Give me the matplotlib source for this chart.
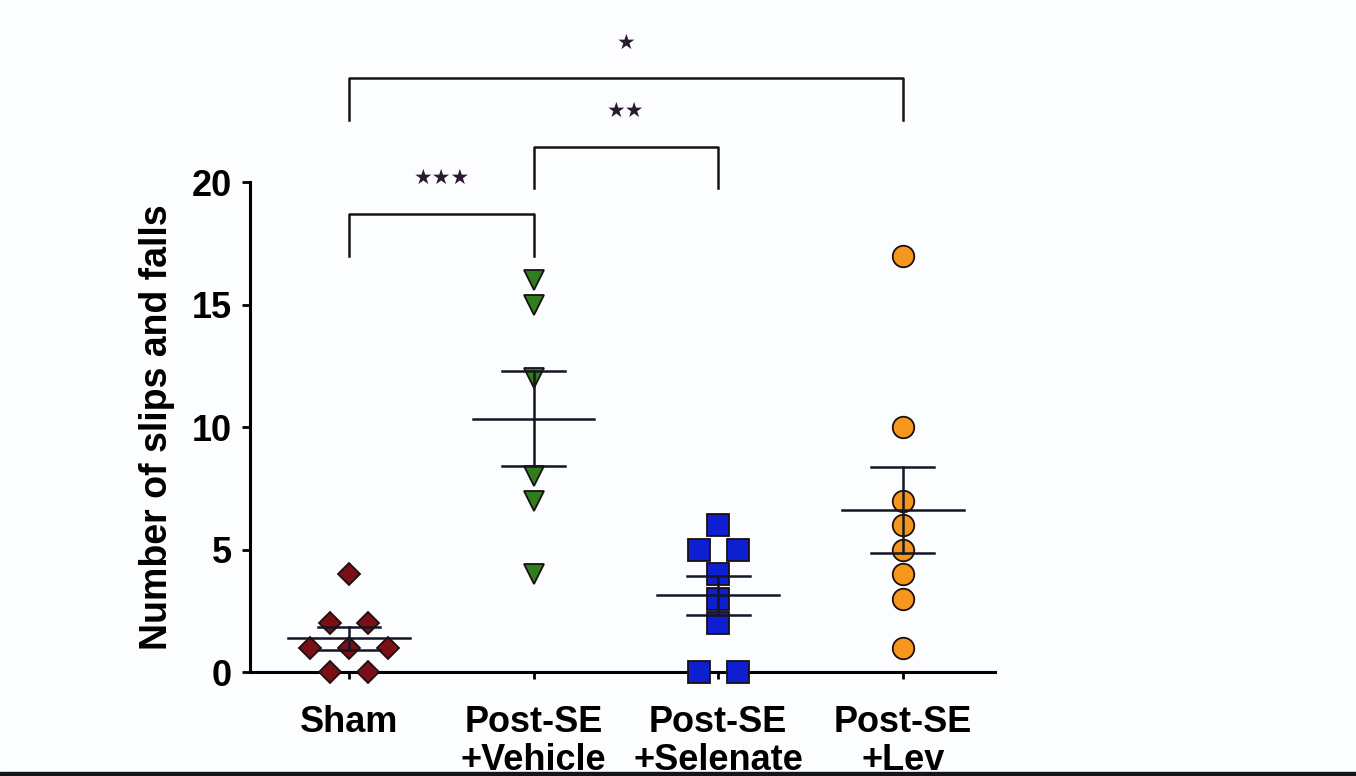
import numpy as np
import matplotlib
matplotlib.use("Agg")
import matplotlib.pyplot as plt
from matplotlib.patches import Rectangle

plt.rcParams['font.family'] = ['Liberation Sans', 'DejaVu Sans']

groups = ["Sham", "Post-SE\n+Vehicle", "Post-SE\n+Selenate", "Post-SE\n+Lev"]
sham = [4, 2, 2, 1, 1, 1, 0, 0]
vehicle = [16, 15, 12, 8, 7, 4]
selenate = [6, 5, 5, 4, 3, 2, 0, 0]
lev = [17, 10, 7, 6, 5, 4, 3, 1]
data = [sham, vehicle, selenate, lev]

markers = ['D', 'v', 's', 'o']
colors = ['#7a0f16', '#2f7d1d', '#0d1fd0', '#f5971c']
sizes = [11, 14.5, 15.5, 15.5]

# significance brackets: (left group, right group, bar y, leg bottom y, stars)
brackets = [(0, 1, 18.7, 17.0, "★★★"), (1, 2, 21.45, 19.75, "★★"), (0, 3, 24.25, 22.55, "★")]

fig = plt.figure(figsize=(13.56, 7.76), dpi=100)
fig.patch.set_facecolor('#fcfdff')
ax = fig.add_axes([0.1844, 0.134, 0.5494, 0.6314])
ax.set_facecolor('#fcfdff')

step = 0.21
for i, vals in enumerate(data):
    vals = np.array(vals, dtype=float)
    xs = np.zeros(len(vals))
    for v in np.unique(vals):
        idx = np.where(vals == v)[0]
        k = len(idx)
        xs[idx] = (np.arange(k) - (k - 1) / 2) * step
    # vehicle and lev columns are drawn in a single column
    if i in (1, 3):
        xs[:] = 0
    ax.plot(i + xs, vals, linestyle='none', marker=markers[i], ms=sizes[i],
            mfc=colors[i], mec='#1a1010', mew=1.3, zorder=3, clip_on=False)
    m = vals.mean()
    sem = vals.std(ddof=1) / np.sqrt(len(vals))
    lc = '#151525'
    ax.plot([i - 0.33, i + 0.33], [m, m], color=lc, lw=1.8, zorder=4)
    ax.plot([i - 0.17, i + 0.17], [m + sem, m + sem], color=lc, lw=1.8, zorder=4)
    ax.plot([i - 0.17, i + 0.17], [m - sem, m - sem], color=lc, lw=1.8, zorder=4)
    ax.plot([i, i], [m - sem, m + sem], color=lc, lw=1.8, zorder=4)

for a, b, ybar, yleg, stars in brackets:
    ax.plot([a, a, b, b], [yleg, ybar, ybar, yleg], color='#151515', lw=1.8,
            clip_on=False)
    ax.text((a + b) / 2, ybar + 1.45, stars, ha='center', va='center',
            fontsize=15, color='#2a1a30', family=['DejaVu Sans'])

ax.set_xlim(-0.536, 3.5)
ax.set_ylim(0, 20)
ax.set_yticks([0, 5, 10, 15, 20])
ax.set_xticks(range(4))
ax.set_xticklabels(groups, fontsize=26, fontweight='bold', linespacing=1.1)
ax.tick_params(axis='y', labelsize=26, width=2, length=6, pad=7, direction='out')
ax.tick_params(axis='x', width=2, length=5, pad=19, direction='out')
for lab in ax.get_yticklabels():
    lab.set_fontweight('bold')
ax.set_ylabel("Number of slips and falls", fontsize=27, fontweight='bold', labelpad=12)

ax.spines['top'].set_visible(False)
ax.spines['right'].set_visible(False)
ax.spines['left'].set_linewidth(2.2)
ax.spines['bottom'].set_linewidth(2.2)

fig.patches.append(Rectangle((0, 0), 1, 4 / 776, transform=fig.transFigure,
                             color='#15151c', zorder=10))

fig.savefig("out.png", dpi=100, facecolor=fig.get_facecolor())
